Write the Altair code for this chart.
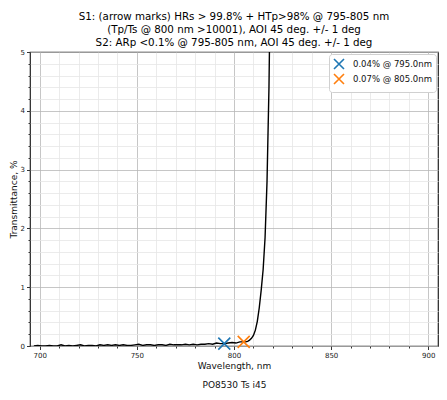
import altair as alt
import pandas as pd

title_lines = [
    "S1: (arrow marks) HRs > 99.8% + HTp>98% @ 795-805 nm",
    "(Tp/Ts @ 800 nm >10001), AOI 45 deg. +/- 1 deg",
    "S2: ARp <0.1% @ 795-805 nm, AOI 45 deg. +/- 1 deg",
]
x_title = ["Wavelength, nm", "PO8530 Ts i45"]
y_title = "Transmittance, %"

wavelength = [697, 699, 701, 703, 705, 707, 709, 711, 713, 715, 717, 719, 721, 723, 725,
              727, 729, 731, 733, 735, 737, 739, 741, 743, 745, 747, 749, 751, 753, 755,
              757, 759, 761, 763, 765, 767, 769, 771, 773, 775, 777, 779, 781, 783, 785,
              787, 789, 791, 793, 795, 797, 799, 801, 803, 805, 806, 807, 808, 809, 810,
              811, 812, 813, 814, 815, 816, 817, 818, 819, 820]
transmittance = [0.00, 0.01, 0.00, 0.00, 0.01, 0.00, 0.00, 0.02, 0.00, 0.01, 0.00, 0.01, 0.02, 0.00, 0.01,
                 0.01, 0.00, 0.02, 0.01, 0.02, 0.01, 0.02, 0.01, 0.02, 0.01, 0.01, 0.02, 0.03, 0.01, 0.02,
                 0.02, 0.01, 0.02, 0.02, 0.01, 0.03, 0.02, 0.02, 0.02, 0.03, 0.02, 0.03, 0.02, 0.03, 0.03,
                 0.04, 0.03, 0.05, 0.04, 0.04, 0.05, 0.06, 0.05, 0.07, 0.07, 0.07, 0.08, 0.10, 0.13, 0.18,
                 0.27, 0.42, 0.65, 0.95, 1.30, 1.85, 2.80, 4.40, 7.00, 11.00]

marker_wl = [795.0, 805.0]
marker_t = [0.04, 0.07]
marker_labels = ["0.04% @ 795.0nm", "0.07% @ 805.0nm"]
marker_colors = ["#1f77b4", "#ff7f0e"]

x_major = [700, 750, 800, 850, 900]
x_minor = [v for v in range(700, 901, 10) if v % 50 != 0]
y_major = [0, 1, 2, 3, 4, 5]
y_minor = [round(i * 0.2, 1) for i in range(26) if i % 5 != 0]

line_df = pd.DataFrame({"wl": wavelength, "t": transmittance})
mark_df = pd.DataFrame({"wl": marker_wl, "t": marker_t, "label": marker_labels})

W, H = 408, 294
xs = alt.Scale(domain=[695, 905], nice=False, zero=False)
ys = alt.Scale(domain=[0, 5], nice=False)

X_PATH = "M-1,-1L1,1M-1,1L1,-1"

line = alt.Chart(line_df).mark_line(color="black", strokeWidth=1.4, clip=True).encode(
    x=alt.X("wl:Q", scale=xs, axis=alt.Axis(
        orient="bottom", values=x_minor, grid=True, gridColor="#e6e6e6", gridWidth=0.8,
        labels=False, ticks=True, tickSize=2, tickColor="#333", domain=False, title=None)),
    y=alt.Y("t:Q", scale=ys, axis=alt.Axis(
        orient="left", values=y_minor, grid=True, gridColor="#e6e6e6", gridWidth=0.8,
        labels=False, ticks=True, tickSize=2, tickColor="#333", domain=False, title=None)),
)

points = alt.Chart(mark_df).mark_point(
    shape=X_PATH, size=144, strokeWidth=1.6, filled=False, opacity=1
).encode(
    x=alt.X("wl:Q", scale=xs, axis=alt.Axis(
        orient="bottom", values=x_major, grid=True, gridColor="#b8b8b8", gridWidth=0.8,
        labelFontSize=7, labelColor="#222", tickSize=3.5, tickColor="#333", labelPadding=2,
        domain=False, title=x_title, titleFontSize=9, titleFontWeight="normal",
        titleLineHeight=19, titleY=15, titleBaseline="top", titleColor="#111")),
    y=alt.Y("t:Q", scale=ys, axis=alt.Axis(
        orient="left", values=y_major, grid=True, gridColor="#b8b8b8", gridWidth=0.8,
        labelFontSize=7, labelColor="#222", tickSize=3.5, tickColor="#333", labelPadding=2,
        domain=False, title=y_title, titleFontSize=9, titleFontWeight="normal",
        titleX=-17, titleY=H / 2, titleAngle=270, titleAlign="center",
        titleBaseline="middle", titleColor="#111")),
    color=alt.Color("label:N", scale=alt.Scale(domain=marker_labels, range=marker_colors),
                    legend=alt.Legend(
                        title=None, orient="top-right", offset=2, fillColor="white",
                        strokeColor="#d0d0d0", cornerRadius=3, padding=4,
                        labelFontSize=8.5, labelColor="#111", symbolType=X_PATH,
                        symbolSize=100, symbolStrokeWidth=1.6, labelOffset=8, rowPadding=-8)),
)

chart = alt.layer(line, points).resolve_axis(x="independent", y="independent").properties(
    width=W, height=H,
    autosize=alt.AutoSizeParams(type="none"),
    padding={"left": 22, "top": 44, "right": 1, "bottom": 46},
    title=alt.TitleParams(text=title_lines, fontSize=10.3, lineHeight=13, fontWeight="normal",
                          anchor="middle", offset=0, color="black"),
).configure(font="DejaVu Sans").configure_view(stroke="#222", strokeWidth=1.2)

chart.save("out.html", embed_options={"renderer": "svg", "actions": False})
